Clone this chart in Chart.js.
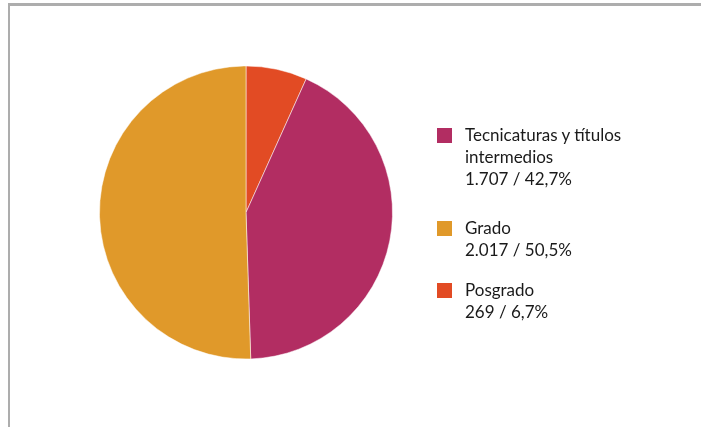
<!DOCTYPE html>
<html>
<head>
<meta charset="utf-8">
<script src="https://cdn.jsdelivr.net/npm/chart.js@4/dist/chart.umd.min.js"></script>
<style>
  html, body { margin: 0; padding: 0; background: #fff; }
  body { width: 701px; height: 427px; position: relative; overflow: hidden; font-family: Lato, "Open Sans", sans-serif; }
  .frame { position: absolute; left: 8px; top: 3px; width: 800px; height: 500px; border-top: 3px solid #adadad; border-left: 2px solid #adadad; }
  #pie { position: absolute; left: 0; top: 0; }
  .legend { position: absolute; left: 437px; top: 124px; color: #1a1a1a; font-size: 17px; line-height: 22px; }
  .item { position: relative; padding-left: 28px; }
  .box { position: absolute; left: 0; top: 4px; width: 15px; height: 15px; }
</style>
</head>
<body>
<div class="frame"></div>
<canvas id="pie" width="701" height="427"></canvas>
<div class="legend" id="legend"></div>
<script>
'use strict';

// legend order
const labels = ['Tecnicaturas y títulos intermedios', 'Grado', 'Posgrado'];
const labelLines = [['Tecnicaturas y títulos', 'intermedios'], ['Grado'], ['Posgrado']];
const values = [1707, 2017, 269];
const colors = ['#b22d62', '#e0992a', '#e24b24'];
// the pie starts at 12 o'clock with Posgrado, then Tecnicaturas, then Grado
const pieOrder = [2, 0, 1];
const itemGaps = [0, 27, 18];

const total = values.reduce((a, b) => a + b, 0);

function fmtNum(n) {
    return String(n).replace(/\B(?=(\d{3})+(?!\d))/g, '.');
}
function fmtPct(n) {
    return (Math.floor(n / total * 1000) / 10).toFixed(1).replace('.', ',') + '%';
}

const ctx = document.getElementById('pie').getContext('2d');
new Chart(ctx, {
    type: 'pie',
    data: {
        labels: pieOrder.map(i => labels[i]),
        datasets: [{
            data: pieOrder.map(i => values[i]),
            backgroundColor: pieOrder.map(i => colors[i]),
            borderColor: 'rgba(255,255,255,0.5)',
            borderWidth: 1
        }]
    },
    options: {
        responsive: false,
        animation: false,
        layout: {
            padding: { left: 99, top: 65, right: 308, bottom: 67 }
        },
        plugins: {
            legend: { display: false },
            tooltip: { enabled: false }
        }
    }
});

const legend = document.getElementById('legend');
labels.forEach((label, i) => {
    const item = document.createElement('div');
    item.className = 'item';
    item.style.marginTop = itemGaps[i] + 'px';
    const box = document.createElement('div');
    box.className = 'box';
    box.style.background = colors[i];
    item.appendChild(box);
    labelLines[i].concat([fmtNum(values[i]) + ' / ' + fmtPct(values[i])]).forEach(t => {
        const line = document.createElement('div');
        line.textContent = t;
        item.appendChild(line);
    });
    legend.appendChild(item);
});
</script>
</body>
</html>
